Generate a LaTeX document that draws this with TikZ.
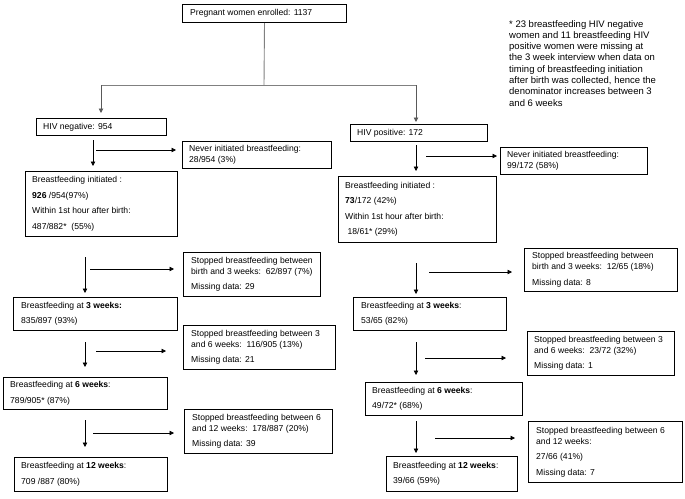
\documentclass[tikz,border=0pt]{standalone}
\usepackage{fontspec}
\setmainfont{Liberation Sans}
\usetikzlibrary{arrows.meta}
\tikzset{
  box/.style={draw=black, line width=1pt, inner sep=0pt, anchor=north west},
  txt/.style={inner sep=0pt, align=left, font=\fontsize{8.6}{11}\selectfont, anchor=west},
  notetxt/.style={inner sep=0pt, align=left, font=\fontsize{9.5}{11.3}\selectfont, anchor=north west},
  arr/.style={line width=0.8pt, draw=black, -{Triangle[length=4.5pt,width=4.5pt]}},
  tree/.style={line width=0.9pt, draw=black!50},
  treearr/.style={line width=0.9pt, draw=black!65, -{Triangle[length=4.5pt,width=4.5pt]}},
}
\newcommand\flowbox[7]{%
  \node[box, minimum width=#4pt, minimum height=#5pt] (#1) at (#2,#3) {};
  \node[txt] (#1-t) at ([xshift=#6pt]#1.west) {#7};}
\begin{document}
\begin{tikzpicture}[x=1pt,y=-1pt]
\fill[white] (0,0) rectangle (685,498);
\useasboundingbox (0,0) rectangle (685,498);

% boxes
\flowbox{top}{182}{4}{164}{18}{8}{Pregnant women enrolled: 1137}
\flowbox{hneg}{36}{118}{130}{17}{7}{HIV negative: 954}
\flowbox{hpos}{350}{124}{137}{17}{7}{HIV positive: 172}
\flowbox{never1}{182}{141}{149}{27}{7}{Never initiated breastfeeding:\\28/954 (3\%)}
\flowbox{never2}{500}{147}{147}{27}{7}{Never initiated breastfeeding:\\99/172 (58\%)}
\flowbox{init1}{25}{171}{152}{65}{7}{Breastfeeding initiated :\\[4.5pt]\textbf{926} /954(97\%)\\[4.5pt]Within 1st hour after birth:\\[4.5pt]487/882*~~(55\%)}
\flowbox{init2}{338}{176}{158}{66}{7}{Breastfeeding initiated :\\[4.5pt]\textbf{73}/172 (42\%)\\[4.5pt]Within 1st hour after birth:\\[4.5pt]~18/61* (29\%)}
\flowbox{stopLa}{183}{252}{137}{44}{8}{Stopped breastfeeding between\\birth and 3 weeks:~~62/897 (7\%)\\[4.5pt]Missing data: 29}
\flowbox{wkLa}{13}{297}{164}{33}{8}{Breastfeeding at \textbf{3 weeks:}\\[4.5pt]835/897 (93\%)}
\flowbox{stopLb}{183}{325}{152}{44}{8}{Stopped breastfeeding between 3\\and 6 weeks:~~116/905 (13\%)\\[4.5pt]Missing data: 21}
\flowbox{wkLb}{3}{377}{164}{32}{7}{Breastfeeding at \textbf{6 weeks}:\\[4.5pt]789/905* (87\%)}
\flowbox{stopLc}{184}{409}{148}{44}{8}{Stopped breastfeeding between 6\\and 12 weeks:~~178/887 (20\%)\\[4.5pt]Missing data: 39}
\flowbox{wkLc}{14}{457}{153}{34}{7}{Breastfeeding at \textbf{12 weeks}:\\[4.5pt]709 /887 (80\%)}
\flowbox{stopRa}{524}{248}{153}{43}{8}{Stopped breastfeeding between\\birth and 3 weeks:~~12/65 (18\%)\\[4.5pt]Missing data: 8}
\flowbox{wkRa}{353}{297}{153}{33}{8}{Breastfeeding at \textbf{3 weeks}:\\[4.5pt]53/65 (82\%)}
\flowbox{stopRb}{527}{331}{147}{44}{7}{Stopped breastfeeding between 3\\and 6 weeks:~~23/72 (32\%)\\[4.5pt]Missing data: 1}
\flowbox{wkRb}{365}{382}{157}{33}{7}{Breastfeeding at \textbf{6 weeks}:\\[4.5pt]49/72* (68\%)}
\flowbox{stopRc}{528}{421}{154}{61}{8}{Stopped breastfeeding between 6\\and 12 weeks:\\[4.5pt]27/66 (41\%)\\[4.5pt]Missing data: 7}
\flowbox{wkRc}{386}{456}{131}{35}{7}{Breastfeeding at \textbf{12 weeks}:\\[4.5pt]39/66 (59\%)}

% footnote
\node[notetxt] (note) at (509,20) {* 23 breastfeeding HIV negative\\women and 11 breastfeeding HIV\\positive women were missing at\\the 3 week interview when data on\\timing of breastfeeding initiation\\after birth was collected, hence the\\denominator increases between 3\\and 6 weeks};

% tree at top
\coordinate (split) at (264,85);
\coordinate (brL) at (101,85);
\coordinate (brR) at (416,85);
\coordinate (hnegIn) at (101,113);
\coordinate (hposIn) at (416,122);
\draw[tree] (top.south) -- (split);
\draw[tree] (brL) -- (brR);
\draw[treearr] (brL) -- (hnegIn);
\draw[treearr] (brR) -- (hposIn);

% left column arrows
\coordinate (L1a) at (93,140);  \coordinate (L1b) at (93,166);
\coordinate (L1c) at (96,150);  \coordinate (L1d) at (176,150);
\coordinate (L2a) at (85,257);  \coordinate (L2b) at (85,293);
\coordinate (L2c) at (90,269);  \coordinate (L2d) at (174,269);
\coordinate (L3a) at (85,342);  \coordinate (L3b) at (85,367);
\coordinate (L3c) at (96,351);  \coordinate (L3d) at (166,351);
\coordinate (L4a) at (85,420);  \coordinate (L4b) at (85,447);
\coordinate (L4c) at (93,433);  \coordinate (L4d) at (174,433);
\draw[arr] (L1a) -- (L1b); \draw[arr] (L1c) -- (L1d);
\draw[arr] (L2a) -- (L2b); \draw[arr] (L2c) -- (L2d);
\draw[arr] (L3a) -- (L3b); \draw[arr] (L3c) -- (L3d);
\draw[arr] (L4a) -- (L4b); \draw[arr] (L4c) -- (L4d);

% right column arrows
\coordinate (R1a) at (416,145); \coordinate (R1b) at (416,171);
\coordinate (R1c) at (426,156); \coordinate (R1d) at (497,156);
\coordinate (R2a) at (416,263); \coordinate (R2b) at (416,294);
\coordinate (R2c) at (429,272); \coordinate (R2d) at (512,272);
\coordinate (R3a) at (416,342); \coordinate (R3b) at (416,375);
\coordinate (R3c) at (425,358); \coordinate (R3d) at (506,358);
\coordinate (R4a) at (416,421); \coordinate (R4b) at (416,453);
\coordinate (R4c) at (435,438); \coordinate (R4d) at (515,438);
\draw[arr] (R1a) -- (R1b); \draw[arr] (R1c) -- (R1d);
\draw[arr] (R2a) -- (R2b); \draw[arr] (R2c) -- (R2d);
\draw[arr] (R3a) -- (R3b); \draw[arr] (R3c) -- (R3d);
\draw[arr] (R4a) -- (R4b); \draw[arr] (R4c) -- (R4d);
\end{tikzpicture}
\end{document}
